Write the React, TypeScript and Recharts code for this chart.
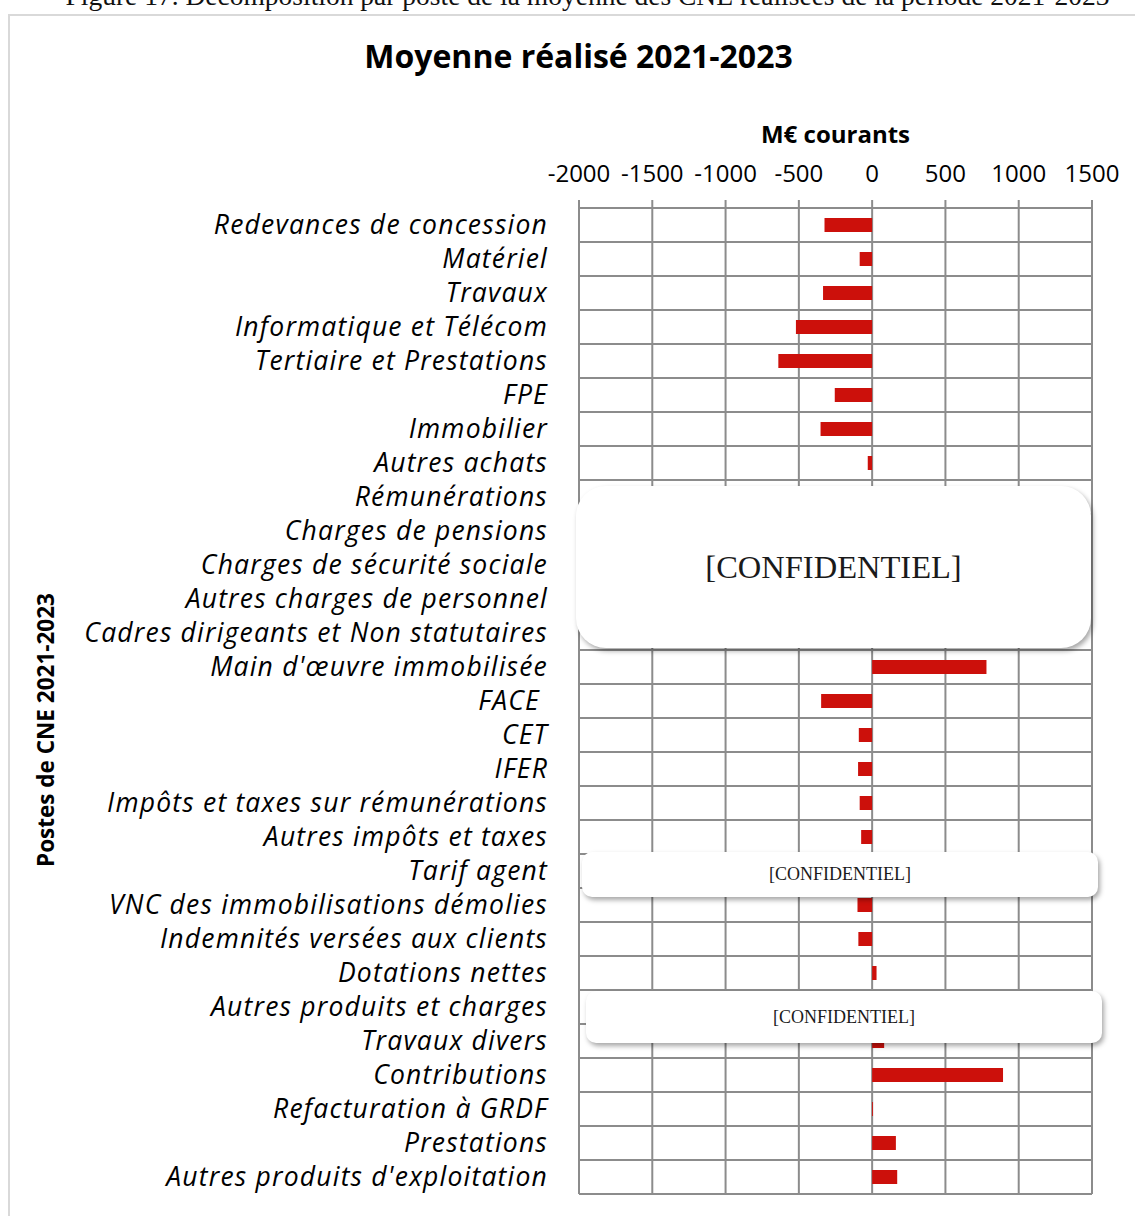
import { BarChart, Bar, XAxis, YAxis, CartesianGrid } from 'recharts';

// Postes de CNE (ordre du graphique, de haut en bas)
const postes = [
  'Redevances de concession',
  'Matériel',
  'Travaux',
  'Informatique et Télécom',
  'Tertiaire et Prestations',
  'FPE',
  'Immobilier',
  'Autres achats',
  'Rémunérations',
  'Charges de pensions',
  'Charges de sécurité sociale',
  'Autres charges de personnel',
  'Cadres dirigeants et Non statutaires',
  "Main d'œuvre immobilisée",
  'FACE\u00A0',
  'CET',
  'IFER',
  'Impôts et taxes sur rémunérations',
  'Autres impôts et taxes',
  'Tarif agent',
  'VNC des immobilisations démolies',
  'Indemnités versées aux clients',
  'Dotations nettes',
  'Autres produits et charges',
  'Travaux divers',
  'Contributions',
  'Refacturation à GRDF',
  'Prestations',
  "Autres produits d'exploitation",
];

// M€ courants, moyenne 2021-2023 (null = masqué / confidentiel)
const moyennes: (number | null)[] = [
  -325, -85, -335, -520, -640, -255, -352, -30,
  null, null, null, null, null,
  780, -348, -91, -96, -85, -75,
  null,
  -100, -94, 30,
  null,
  82, 893, 6, 162, 171,
];

const ticksX = [-2000, -1500, -1000, -500, 0, 500, 1000, 1500];

const data = postes.map((poste, i) => ({ poste, value: moyennes[i] }));

const GRID = '#8c8c8c';
const SANS = '"Open Sans", sans-serif';
const SERIF = '"Liberation Serif", serif';

const boxStyle = (left: number, top: number, width: number, height: number, radius: number, fontSize: number) => ({
  position: 'absolute' as const,
  left,
  top,
  width,
  height,
  borderRadius: radius,
  background: '#fff',
  boxShadow: '2px 3px 5px rgba(0,0,0,0.35)',
  display: 'flex',
  alignItems: 'center',
  justifyContent: 'center',
  fontFamily: SERIF,
  fontSize,
  color: '#1a1a1a',
});

export default function App() {
  return (
    <div style={{ position: 'absolute', left: 0, top: 0, width: 1135, height: 1216, overflow: 'hidden', background: '#fff' }}>
      {/* légende de figure, coupée en haut */}
      <div
        style={{
          position: 'absolute', left: 0, top: -18, width: 1175, textAlign: 'center',
          fontFamily: SERIF, fontSize: 27.5, lineHeight: '27px', whiteSpace: 'nowrap', color: '#111',
        }}
      >
        Figure 17. Décomposition par poste de la moyenne des CNE réalisées de la période 2021-2023
      </div>
      {/* cadre */}
      <div style={{ position: 'absolute', left: 8, top: 14, width: 1140, height: 1220, border: '2px solid #d9d9d9' }} />

      <div style={{ position: 'absolute', left: 0, top: 34, width: 1157, textAlign: 'center', fontFamily: SANS, fontWeight: 700, fontSize: 32 }}>
        Moyenne réalisé 2021-2023
      </div>
      <div style={{ position: 'absolute', left: 579, top: 117, width: 513, textAlign: 'center', fontFamily: SANS, fontWeight: 700, fontSize: 24 }}>
        M€ courants
      </div>
      <div
        style={{
          position: 'absolute', left: 45, top: 730, transform: 'translate(-50%, -50%) rotate(-90deg)',
          whiteSpace: 'nowrap', fontFamily: SANS, fontWeight: 700, fontSize: 22.5,
        }}
      >
        Postes de CNE 2021-2023
      </div>

      <div style={{ position: 'absolute', left: 0, top: 0 }}>
        <BarChart
          width={1135}
          height={1216}
          data={data}
          layout="vertical"
          margin={{ top: 148, right: 43, bottom: 22, left: 19 }}
        >
          <CartesianGrid
            stroke={GRID}
            strokeWidth={2}
            horizontalCoordinatesGenerator={({ offset }: any) =>
              postes.concat(['']).map((_, i) => offset.top + (i * offset.height) / postes.length)
            }
          />
          <XAxis
            type="number"
            orientation="top"
            domain={[-2000, 1500]}
            ticks={ticksX}
            height={60}
            tickSize={8}
            tickMargin={18}
            axisLine={{ stroke: GRID, strokeWidth: 2 }}
            tickLine={{ stroke: GRID, strokeWidth: 2 }}
            tick={{ fill: '#000', fontSize: 24, fontFamily: SANS }}
            interval={0}
          />
          <YAxis
            type="category"
            dataKey="poste"
            width={560}
            interval={0}
            axisLine={false}
            tickLine={false}
            tickSize={0}
            tickMargin={31}
            tick={{ fill: '#000', fontSize: 26.5, fontFamily: SANS, fontStyle: 'italic', letterSpacing: 1.2 }}
          />
          <Bar dataKey="value" fill="#CC100B" barSize={14} isAnimationActive={false} />
        </BarChart>
      </div>

      {/* zones masquées */}
      <div style={boxStyle(576, 486, 515, 162, 30, 32.5)}>[CONFIDENTIEL]</div>
      <div style={boxStyle(582, 852, 516, 45, 10, 18)}>[CONFIDENTIEL]</div>
      <div style={boxStyle(586, 991, 516, 52, 10, 18)}>[CONFIDENTIEL]</div>
    </div>
  );
}
